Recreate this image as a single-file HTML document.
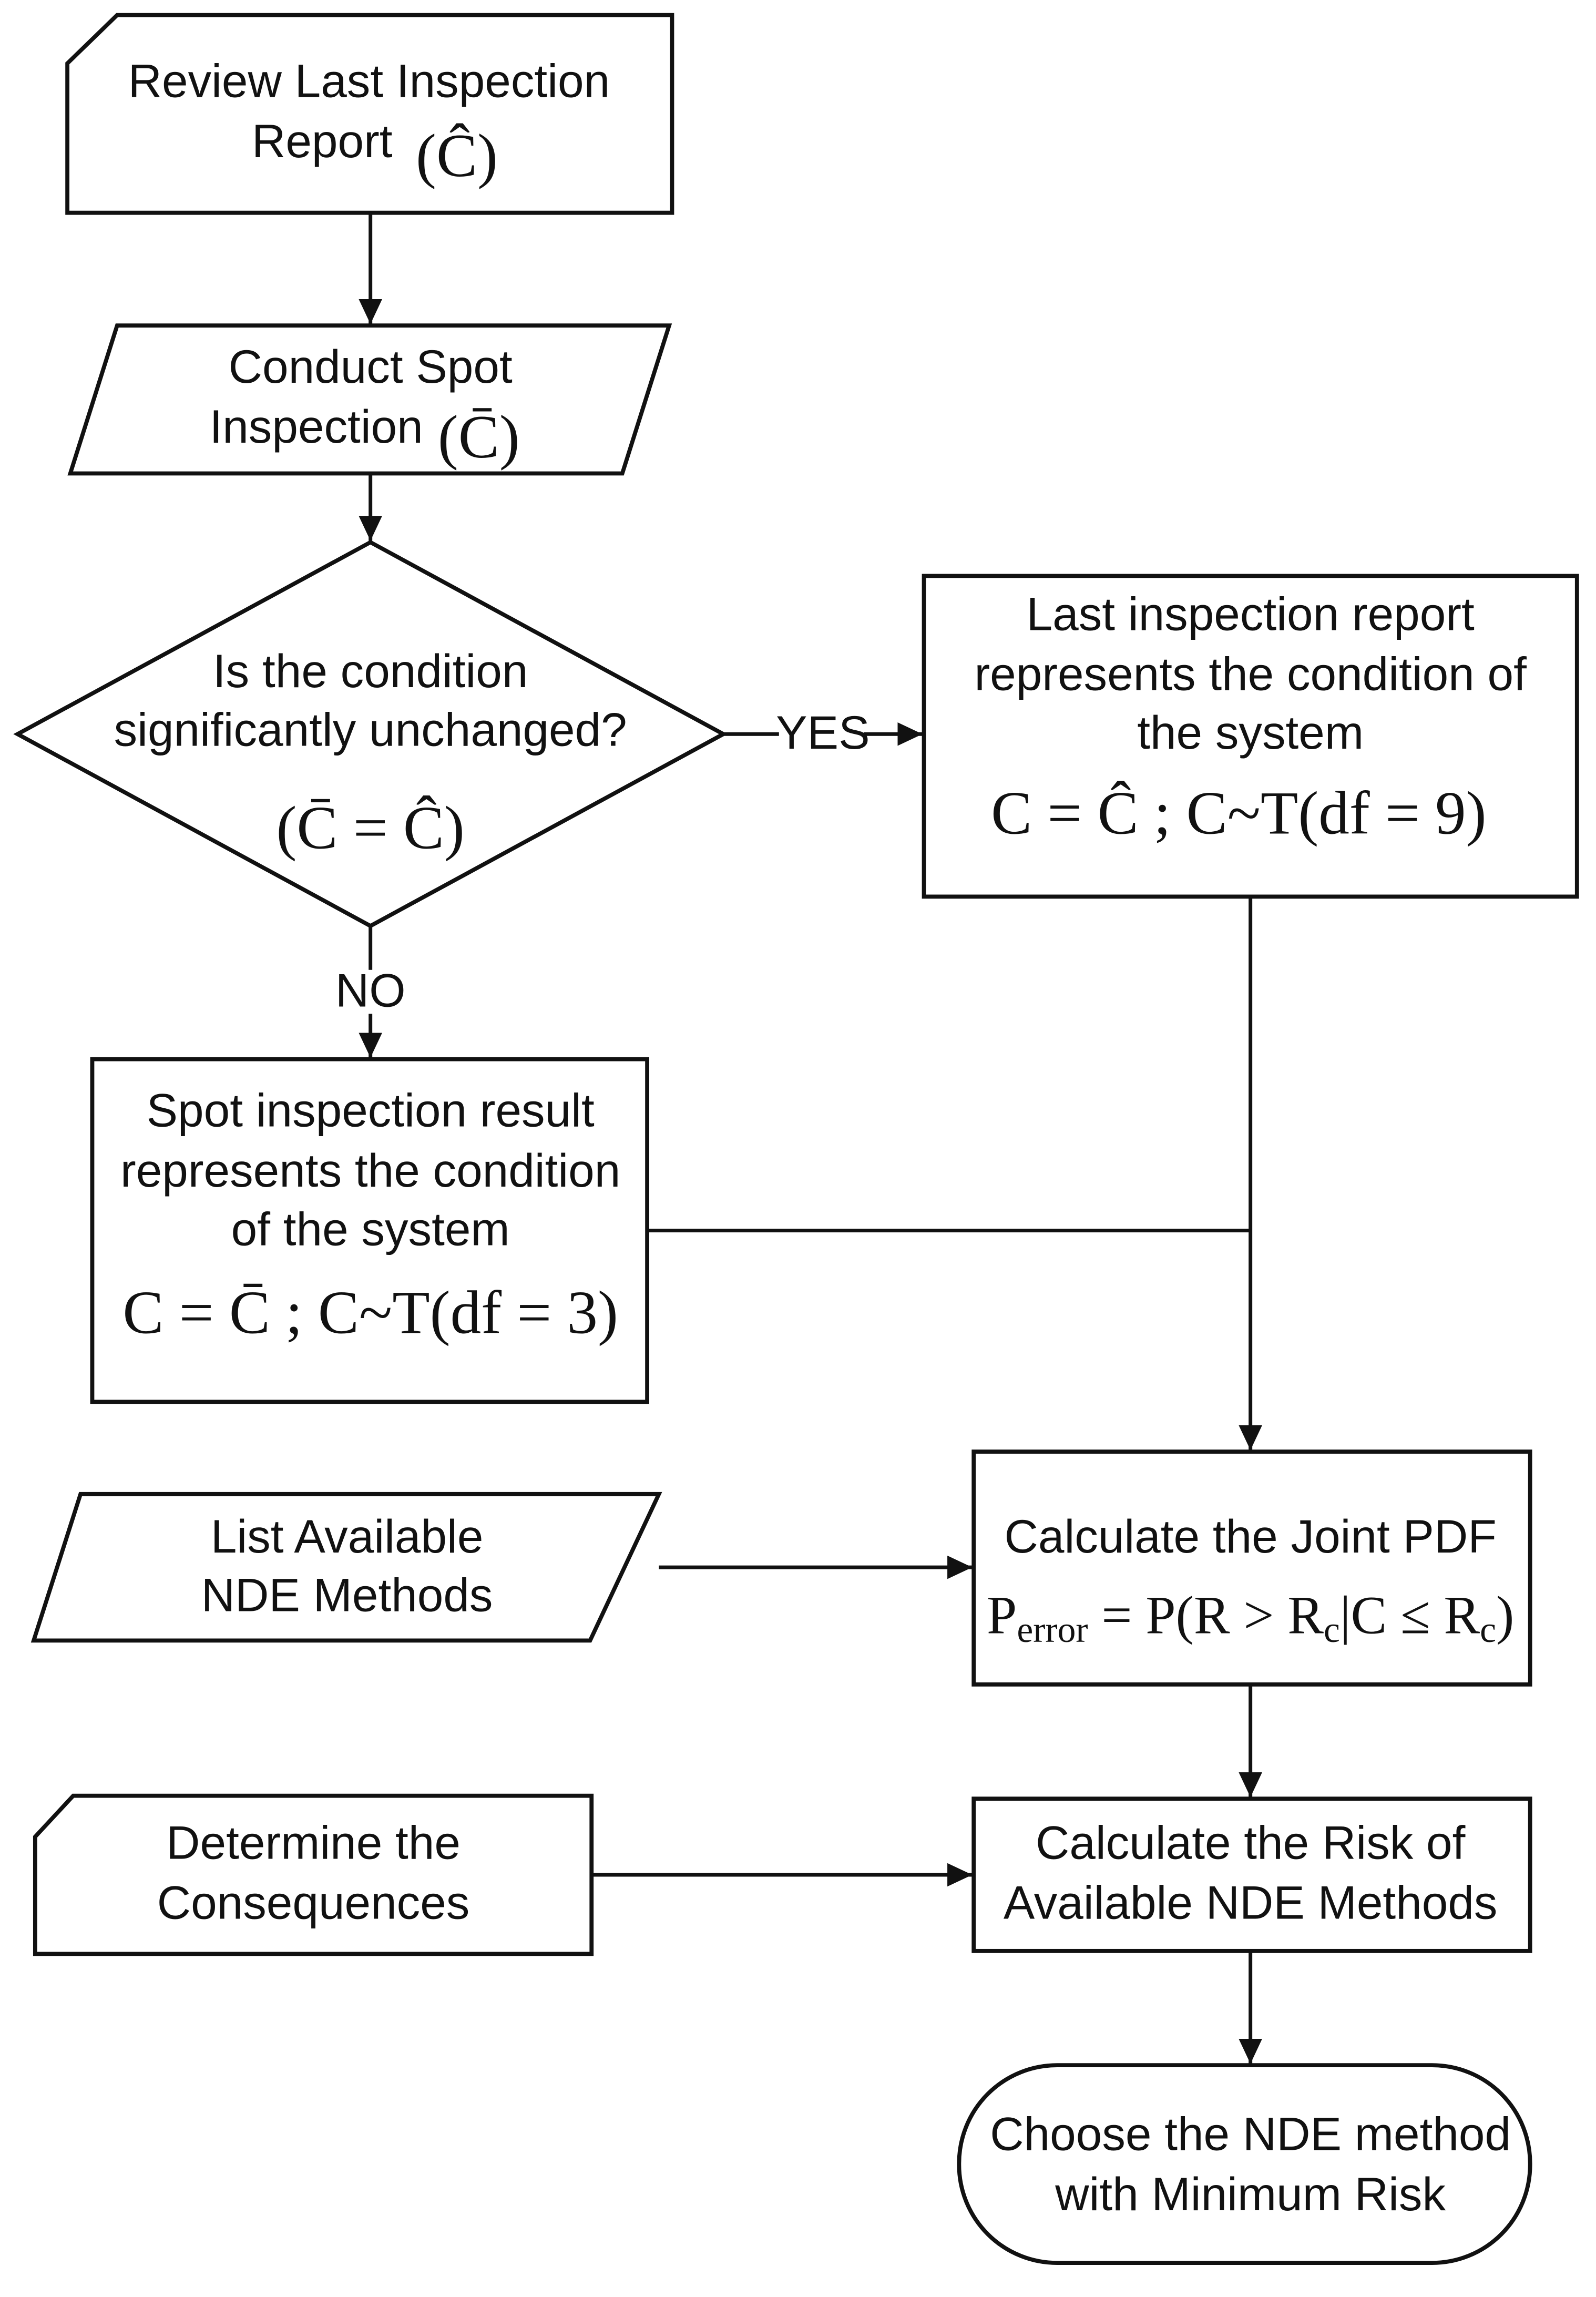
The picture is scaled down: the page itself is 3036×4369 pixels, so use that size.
<!DOCTYPE html>
<html><head><meta charset="utf-8"><style>
html,body{margin:0;padding:0;background:#fff;}
svg{display:block;}
text{font-family:"Liberation Sans",sans-serif;font-size:32px;fill:#111;}
.m{font-family:"Liberation Serif",serif;font-size:42px;}
</style></head><body>
<svg width="3036" height="4369" viewBox="0 0 1090 1568" xmlns="http://www.w3.org/2000/svg">
<defs><marker id="b" markerWidth="20" markerHeight="20" refX="17" refY="8" orient="auto" markerUnits="userSpaceOnUse"><path d="M0,0 L17,8 L0,16 z" fill="#111"/></marker></defs>
<g fill="none" stroke="#111" stroke-width="2.8">
<path d="M80,10 L459,10 L459,145 L46,145 L46,43 Z"/>
<path d="M80,222 L457,222 L425,323 L48,323 Z"/>
<path d="M12,501 L253,370 L494,501 L253,632 Z"/>
<rect x="631" y="393" width="446" height="219"/>
<rect x="63" y="723" width="379" height="234"/>
<rect x="665" y="991" width="380" height="159"/>
<path d="M55,1020 L450,1020 L403,1120 L23,1120 Z"/>
<path d="M50,1226 L404,1226 L404,1334 L24,1334 L24,1254 Z"/>
<rect x="665" y="1228" width="380" height="104"/>
<rect x="655" y="1410" width="390" height="135" rx="67"/>
<g marker-end="url(#b)" stroke-width="2.5">
<line x1="253" y1="145" x2="253" y2="221"/>
<line x1="253" y1="323" x2="253" y2="369"/>
<line x1="590" y1="501" x2="630" y2="501"/>
<line x1="253" y1="692" x2="253" y2="722"/>
<line x1="854" y1="612" x2="854" y2="990"/>
<line x1="450" y1="1070" x2="664" y2="1070"/>
<line x1="854" y1="1150" x2="854" y2="1227"/>
<line x1="404" y1="1280" x2="664" y2="1280"/>
<line x1="854" y1="1332" x2="854" y2="1409"/>
</g>
<line x1="494" y1="501" x2="532" y2="501" stroke-width="2.5"/>
<line x1="253" y1="632" x2="253" y2="662" stroke-width="2.5"/>
<line x1="442" y1="840" x2="854" y2="840" stroke-width="2.5"/>
</g>
<g text-anchor="middle">
<text x="252" y="66">Review Last Inspection</text>
<text x="220" y="107">Report</text><text class="m" x="312" y="120">(Ĉ)</text>
<text x="253" y="261">Conduct Spot</text>
<text x="216" y="302">Inspection</text><text class="m" x="327" y="312">(C̄)</text>
<text x="253" y="469">Is the condition</text>
<text x="253" y="509">significantly unchanged?</text>
<text class="m" x="253" y="579">(C̄ = Ĉ)</text>
<text x="562" y="511" font-size="27">YES</text>
<text x="253" y="687" font-size="27">NO</text>
<text x="854" y="430">Last inspection report</text>
<text x="854" y="471">represents the condition of</text>
<text x="854" y="511">the system</text>
<text class="m" x="846" y="569">C = Ĉ ; C~T(df = 9)</text>
<text x="253" y="769">Spot inspection result</text>
<text x="253" y="810">represents the condition</text>
<text x="253" y="850">of the system</text>
<text class="m" x="253" y="910">C = C̄ ; C~T(df = 3)</text>
<text x="237" y="1060">List Available</text>
<text x="237" y="1100">NDE Methods</text>
<text x="854" y="1060">Calculate the Joint PDF</text>
<text x="854" y="1115" style="font-family:'Liberation Serif',serif;font-size:37px">P<tspan style="font-size:25px" dy="6">error</tspan><tspan dy="-6"> = P(R &gt; R</tspan><tspan style="font-size:25px" dy="6">c</tspan><tspan dy="-6">|C ≤ R</tspan><tspan style="font-size:25px" dy="6">c</tspan><tspan dy="-6">)</tspan></text>
<text x="214" y="1269">Determine the</text>
<text x="214" y="1310">Consequences</text>
<text x="854" y="1269">Calculate the Risk of</text>
<text x="854" y="1310">Available NDE Methods</text>
<text x="854" y="1468">Choose the NDE method</text>
<text x="854" y="1509">with Minimum Risk</text>
</g>
</svg>
</body></html>
